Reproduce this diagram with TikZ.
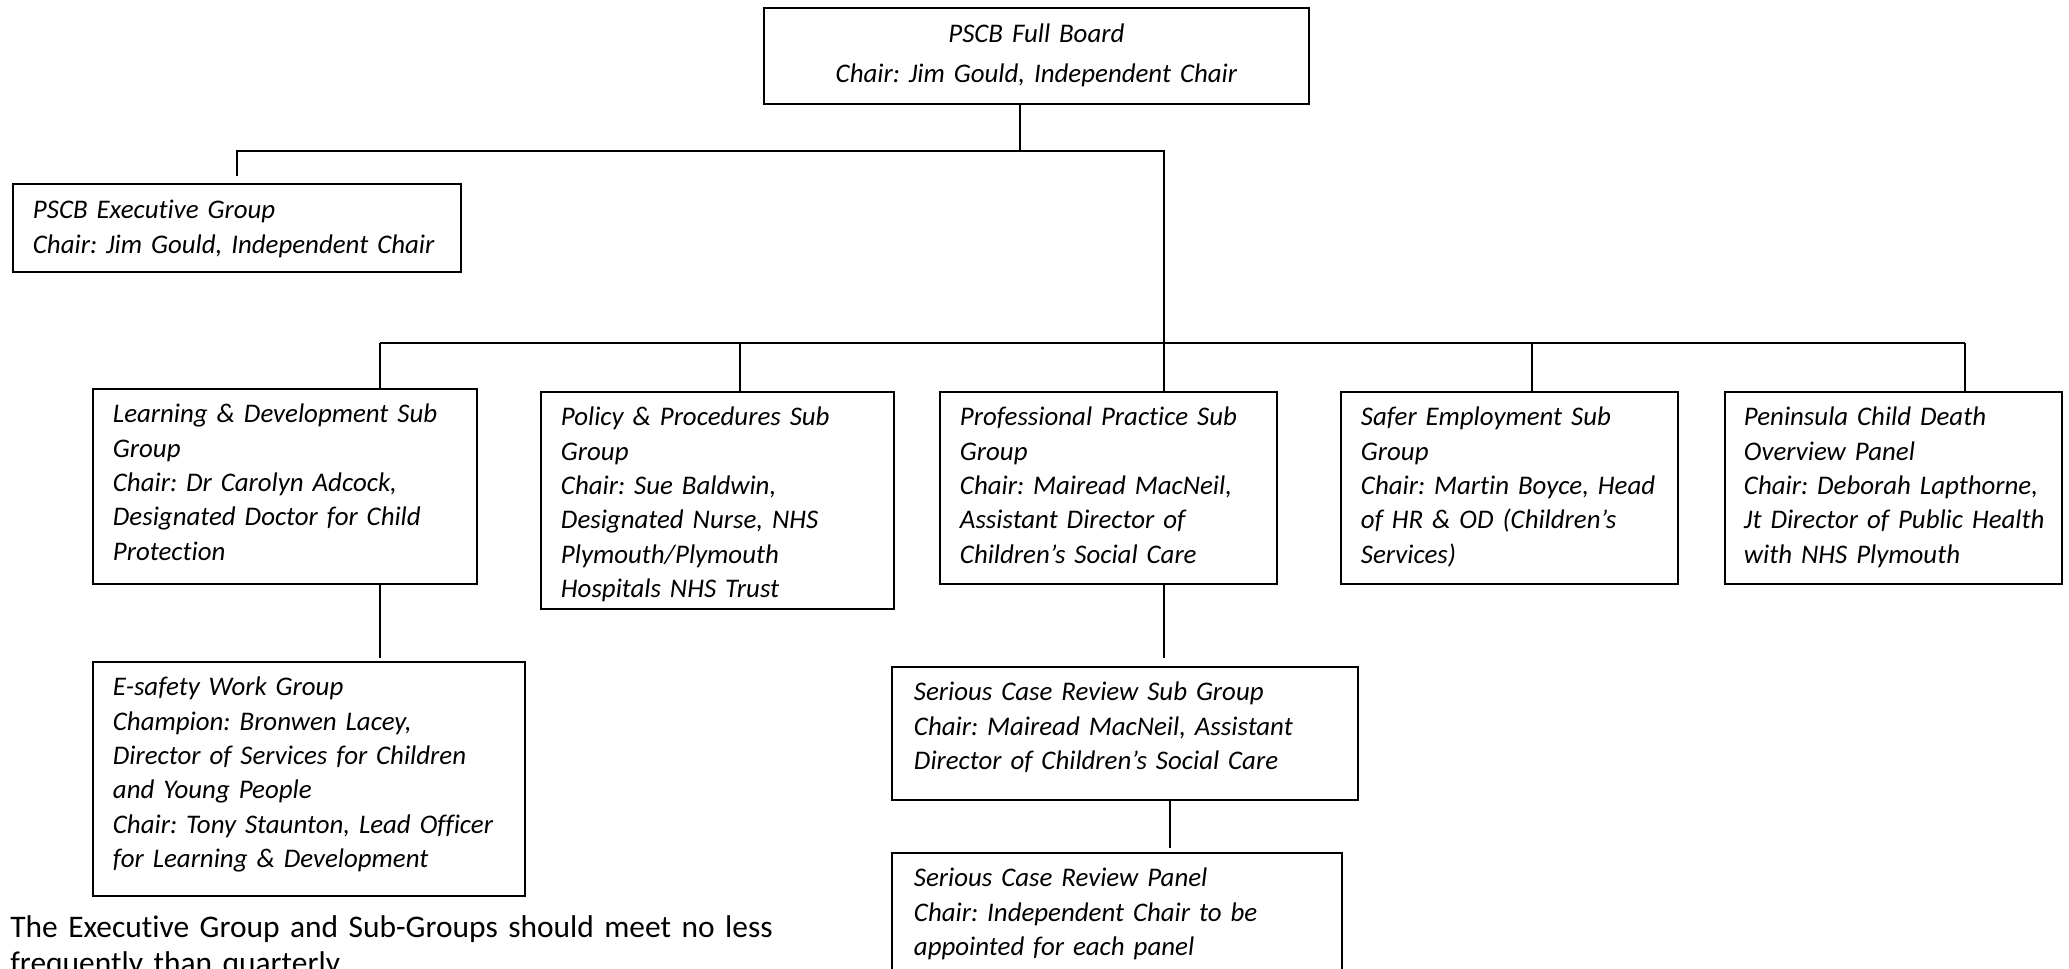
\documentclass[tikz,border=0pt]{standalone}
\usepackage{fontspec}
\setmainfont{Carlito}[Ligatures=NoCommon]
\usetikzlibrary{calc,positioning}
\frenchspacing

\begin{document}
\begin{tikzpicture}[x=0.02cm, y=-0.02cm,
  group/.style={draw, line width=1.1pt, anchor=north west, inner xsep=0.4cm, inner ysep=0pt,
    align=left, text height=0.68cm, font=\itshape\fontsize{15.3}{19.5}\selectfont},
  link/.style={line width=0.9pt}]
\useasboundingbox (0,0) rectangle (2069,969);
% board and executive
\node[group, align=center, text width=10.1cm, text height=0.7cm, text depth=1.22cm] (board) at (763,7)
  {PSCB Full Board\\[0.11cm]Chair: Jim Gould, Independent Chair};
\node[group, text width=8.16cm, text height=0.7cm, text depth=1.06cm] (exec) at (12,183)
  {PSCB Executive Group\\Chair: Jim Gould, Independent Chair};
% sub groups
\node[group, text width=6.88cm, text depth=3.22cm] (ld) at (92,388)
  {Learning \& Development Sub\\Group\\Chair: Dr Carolyn Adcock,\\Designated Doctor for Child\\Protection};
\node[group, text width=6.26cm, text depth=3.66cm] (pol) at (540,391)
  {Policy \& Procedures Sub\\Group\\Chair: Sue Baldwin,\\Designated Nurse, NHS\\Plymouth/Plymouth\\Hospitals NHS Trust};
\node[group, text width=5.94cm, text depth=3.16cm] (prof) at (939,391)
  {Professional Practice Sub\\Group\\Chair: Mairead MacNeil,\\Assistant Director of\\Children’s Social Care};
\node[group, text width=5.94cm, text depth=3.16cm] (safe) at (1340,391)
  {Safer Employment Sub\\Group\\Chair: Martin Boyce, Head\\of HR \& OD (Children’s\\Services)};
\node[group, inner xsep=0.38cm, text width=5.98cm, text depth=3.16cm] (pen) at (1724,391)
  {Peninsula Child Death\\Overview Panel\\Chair: Deborah Lapthorne,\\\mbox{Jt Director of Public Health}\\with NHS Plymouth};
% work groups and panels
\node[group, text width=7.84cm, text depth=4cm] (es) at (92,661)
  {E-safety Work Group\\Champion: Bronwen Lacey,\\Director of Services for Children\\and Young People\\Chair: Tony Staunton, Lead Officer\\for Learning \& Development};
\node[group, inner xsep=0.44cm, text width=8.44cm, text depth=1.98cm] (scr) at (891,666)
  {Serious Case Review Sub Group\\Chair: Mairead MacNeil, Assistant\\Director of Children’s Social Care};
\node[group, inner xsep=0.44cm, text width=8.12cm, text depth=2.3cm] (panel) at (891,852)
  {Serious Case Review Panel\\Chair: Independent Chair to be\\appointed for each panel};
% note
\node[anchor=base west, inner sep=0pt, align=left, text width=22cm,
  font=\fontsize{17.9}{20.5}\selectfont] (note) at (10,937)
  {The Executive Group and Sub-Groups should meet no less\\frequently than quarterly.};
% junctions
\coordinate (top) at (1020,151);
\coordinate (split) at (1164,151);
\coordinate (bus) at (1164,343);
\coordinate (dLD) at (380,343);
\coordinate (dPol) at (740,343);
\coordinate (dSafe) at (1532,343);
\coordinate (dPen) at (1965,343);
\coordinate (dPan) at (1170,799);
% connectors
\draw[link] (board.south -| top) -- (top);
\draw[link] ([yshift=0.14cm]exec.north) |- (split) -- (bus);
\draw[link] (dLD) -- (dPen);
\foreach \d/\b in {dLD/ld, dPol/pol, bus/prof, dSafe/safe, dPen/pen}
  \draw[link] (\d) -- (\d |- \b.north);
\draw[link] (dLD |- ld.south) -- ([yshift=0.06cm]dLD |- es.north);
\draw[link] (bus |- prof.south) -- ([yshift=0.16cm]bus |- scr.north);
\draw[link] (dPan |- scr.south) -- ([yshift=0.08cm]dPan |- panel.north);
\end{tikzpicture}
\end{document}
